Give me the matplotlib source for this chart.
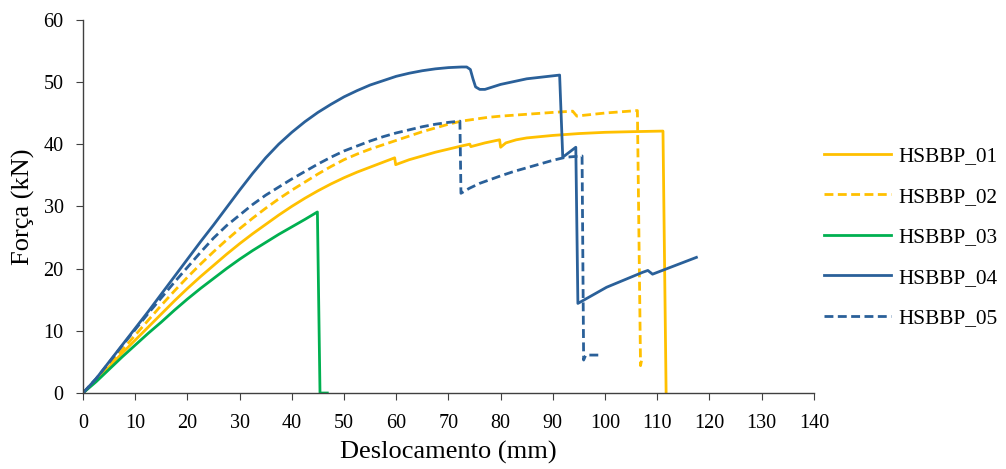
import matplotlib
matplotlib.use('Agg')
import matplotlib.pyplot as plt

plt.rcParams['font.family'] = ['Liberation Serif', 'DejaVu Serif']

# HSBBP_01 (amarelo, contínuo)
x01 = [0, 2.5, 5, 7.5, 10, 12.5, 15, 17.5, 20, 22.5, 25, 27.5, 30, 32.5, 35, 37.5, 40,
       42.5, 45, 47.5, 50, 52.5, 55, 57.5, 59.7, 59.9, 62.5, 65, 67.5, 70, 72.5, 74.1,
       74.3, 77, 79.8, 80.0, 81, 83, 85, 90, 95, 100, 105, 111.1, 111.7]
y01 = [0, 2.0, 4.2, 6.4, 8.5, 10.6, 12.7, 14.8, 16.8, 18.7, 20.5, 22.3, 24.0, 25.6, 27.1,
       28.6, 30.0, 31.3, 32.5, 33.6, 34.6, 35.5, 36.3, 37.1, 37.8, 36.7, 37.5, 38.1, 38.7,
       39.2, 39.7, 40.0, 39.6, 40.2, 40.7, 39.5, 40.2, 40.7, 41.0, 41.4, 41.7, 41.9, 42.0,
       42.1, 0]

# HSBBP_02 (amarelo, tracejado)
x02 = [0, 2.5, 5, 7.5, 10, 12.5, 15, 17.5, 20, 22.5, 25, 27.5, 30, 32.5, 35, 37.5, 40,
       42.5, 45, 47.5, 50, 52.5, 55, 57.5, 60, 62.5, 65, 67.5, 70, 72.5, 75, 77.5, 80,
       85, 90, 93.8, 94.6, 95.5, 100, 106.2, 106.8, 107.1]
y02 = [0, 2.1, 4.5, 6.9, 9.3, 11.7, 14.1, 16.4, 18.6, 20.7, 22.7, 24.6, 26.4, 28.1, 29.7,
       31.2, 32.6, 33.9, 35.2, 36.4, 37.5, 38.4, 39.2, 39.9, 40.6, 41.3, 42.0, 42.6, 43.2,
       43.7, 44.0, 44.3, 44.5, 44.8, 45.1, 45.3, 44.5, 44.6, 45.0, 45.4, 4.4, 5.7]

# HSBBP_03 (verde)
x03 = [0, 2.5, 5, 7.5, 10, 12.5, 15, 17.5, 20, 22.5, 25, 27.5, 30, 32.5, 35, 37.5, 40,
       42.5, 44.9, 45.4, 46.8]
y03 = [0, 1.8, 3.8, 5.8, 7.7, 9.6, 11.4, 13.3, 15.1, 16.8, 18.4, 20.0, 21.5, 22.9, 24.2,
       25.5, 26.7, 27.9, 29.1, 0, 0]

# HSBBP_04 (azul, contínuo)
x04 = [0, 2.5, 5, 7.5, 10, 12.5, 15, 17.5, 20, 22.5, 25, 27.5, 30, 32.5, 35, 37.5, 40,
       42.5, 45, 47.5, 50, 52.5, 55, 57.5, 60, 62.5, 65, 67.5, 70, 72.5, 73.5, 74.2, 74.7,
       75.2, 76, 77, 80, 85, 91.3, 91.9, 94.4, 94.8, 100.3, 107.2, 108.2, 109.1, 117.5]
y04 = [0, 2.3, 5.0, 7.7, 10.4, 13.1, 15.9, 18.7, 21.5, 24.3, 27.0, 29.8, 32.6, 35.3, 37.8,
       40.0, 41.9, 43.6, 45.1, 46.4, 47.6, 48.6, 49.5, 50.2, 50.9, 51.4, 51.8, 52.1, 52.3,
       52.4, 52.4, 52.0, 50.5, 49.2, 48.8, 48.8, 49.6, 50.5, 51.1, 37.9, 39.5, 14.4, 17.0,
       19.4, 19.7, 19.1, 21.8]

# HSBBP_05 (azul, tracejado)
x05 = [0, 2.5, 5, 7.5, 10, 12.5, 15, 17.5, 20, 22.5, 25, 27.5, 30, 32.5, 35, 37.5, 40,
       42.5, 45, 47.5, 50, 52.5, 55, 57.5, 60, 62.5, 65, 67.5, 70, 72.2, 72.4, 74, 76, 78,
       80, 82.5, 85, 87.5, 90, 92.5, 95.6, 95.9, 96.3, 99.4]
y05 = [0, 2.3, 4.9, 7.6, 10.2, 12.8, 15.3, 17.8, 20.2, 22.6, 24.9, 26.9, 28.6, 30.3, 31.8,
       33.1, 34.4, 35.6, 36.8, 37.9, 38.9, 39.7, 40.5, 41.2, 41.8, 42.3, 42.8, 43.2, 43.5,
       43.7, 32.1, 32.9, 33.7, 34.3, 34.9, 35.6, 36.2, 36.8, 37.4, 37.9, 38.1, 5.3, 6.1, 6.1]

amarelo = '#FFC000'
verde = '#00B050'
azul = '#2A6099'
tracejado = (0, (3.2, 1.6))

fig = plt.figure(figsize=(10.06, 4.69), dpi=100)
ax = fig.add_axes([0.0825, 0.162, 0.7265, 0.796])

ax.plot(x01, y01, color=amarelo, lw=2, label='HSBBP_01')
ax.plot(x02, y02, color=amarelo, lw=2, ls=tracejado, label='HSBBP_02')
ax.plot(x03, y03, color=verde, lw=2, label='HSBBP_03')
ax.plot(x04, y04, color=azul, lw=2, label='HSBBP_04')
ax.plot(x05, y05, color=azul, lw=2, ls=tracejado, label='HSBBP_05')

ax.set_xlim(0, 140)
ax.set_ylim(0, 60)
ax.set_xticks(range(0, 141, 10))
ax.set_yticks(range(0, 61, 10))
ax.spines['top'].set_visible(False)
ax.spines['right'].set_visible(False)
for s in ['left', 'bottom']:
    ax.spines[s].set_color('#404040')
    ax.spines[s].set_linewidth(1)
ax.tick_params(direction='out', length=5, color='#404040', labelsize=14.5)
ax.tick_params(axis='y', pad=9)
ax.tick_params(axis='x', pad=10)
ax.set_xlabel('Deslocamento (mm)', fontsize=19, labelpad=6)
ax.set_ylabel('Força (kN)', fontsize=19, labelpad=6)

fig.legend(loc='center left', bbox_to_anchor=(0.8, 0.494), frameon=False,
           fontsize=15.3, handlelength=3.15, labelspacing=0.97, handletextpad=0.35)

fig.savefig('out.png', dpi=100)
